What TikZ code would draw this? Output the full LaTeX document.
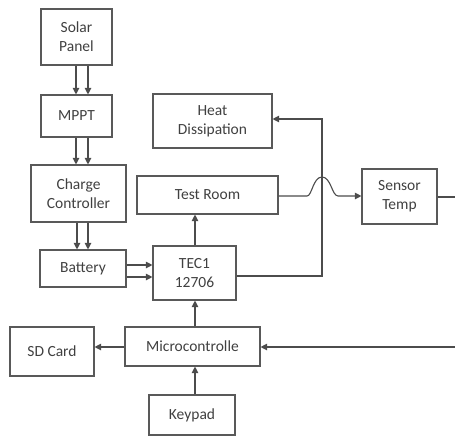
\documentclass[tikz,border=0pt]{standalone}
\usepackage{fontspec}
\setmainfont{Carlito}
\usetikzlibrary{arrows.meta}
\begin{document}
\begin{tikzpicture}[x=1pt,y=-1pt,
  blk/.style={draw=black!65,line width=1.1pt,inner sep=0pt,align=center,
    font=\fontsize{15.5}{19}\selectfont,text=black!75},
  con/.style={draw=black!70,line width=1.1pt,-{Triangle[length=6.5pt,width=6.5pt]}},
  plain/.style={draw=black!70,line width=1.1pt}]
\useasboundingbox (0,0) rectangle (455,437);
\newcommand{\blkbox}[6]{\node[blk,minimum width=#4pt-#2pt,minimum height=#5pt-#3pt] (#1) at ({(#2+#4)/2},{(#3+#5)/2}) {#6};}
\blkbox{solar}{41}{9}{112}{65}{Solar\\Panel}
\blkbox{mppt}{41}{95}{112}{137}{MPPT}
\blkbox{charge}{31}{165}{126}{222}{Charge\\Controller}
\blkbox{battery}{40}{250}{126}{287}{Battery}
\blkbox{heat}{153}{94}{272}{148}{Heat\\Dissipation}
\blkbox{room}{137}{176}{278}{214}{Test Room}
\blkbox{sensor}{362}{169}{437}{224}{Sensor\\Temp}
\blkbox{tec}{153}{246}{236}{300}{TEC1\\12706}
\blkbox{micro}{125}{327}{260}{366}{Microcontrolle}
\blkbox{sd}{10}{327}{94}{376}{SD Card}
\blkbox{key}{149}{395}{235}{435}{Keypad}
% double arrows
\draw[con] (solar.south -| 76,0) -- (mppt.north -| 76,0);
\draw[con] (solar.south -| 88,0) -- (mppt.north -| 88,0);
\draw[con] (mppt.south -| 76,0) -- (charge.north -| 76,0);
\draw[con] (mppt.south -| 88,0) -- (charge.north -| 88,0);
\draw[con] (charge.south -| 77,0) -- (battery.north -| 77,0);
\draw[con] (charge.south -| 88,0) -- (battery.north -| 88,0);
\draw[con] (battery.east |- 0,265) -- (tec.west |- 0,265);
\draw[con] (battery.east |- 0,277) -- (tec.west |- 0,277);
% vertical chain
\draw[con] (tec.north -| 195,0) -- (room.south -| 195,0);
\draw[con] (micro.north -| 195,0) -- (tec.south -| 195,0);
\draw[con] (key.north -| 195,0) -- (micro.south -| 195,0);
\draw[con] (micro.west |- 0,347) -- (sd.east |- 0,347);
% TEC to heat dissipation
\coordinate (c1) at (322,276);
\coordinate (c2) at (322,119);
\draw[con] (tec.east |- c1) -- (c1) -- (c2) -- (heat.east |- c2);
% test room to sensor with jump
\coordinate (j1) at (307,196);
\coordinate (j2) at (338,196);
\draw[con] (room.east |- j1) -- (j1) .. controls (312,196) and (313,177) .. (322,177) .. controls (331,177) and (332,196) .. (j2) -- (sensor.west |- j2);
% off-edge connections
\coordinate (e1) at (455,197);
\coordinate (e2) at (455,347);
\draw[plain] (sensor.east |- e1) -- (e1);
\draw[con] (e2) -- (micro.east |- e2);
\end{tikzpicture}
\end{document}
